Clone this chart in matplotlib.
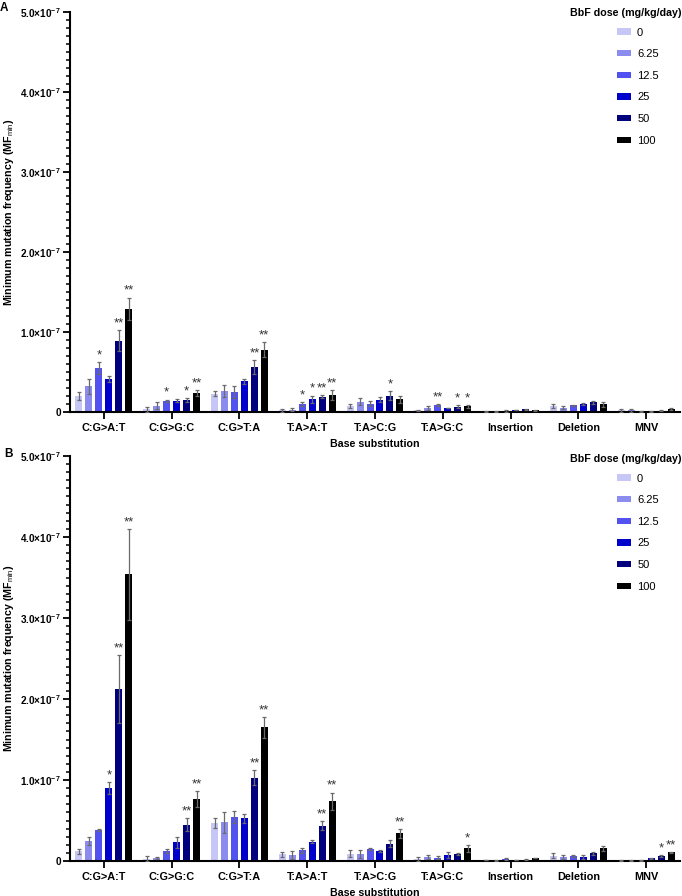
import numpy as np
import matplotlib.pyplot as plt

plt.rcParams['font.family'] = ['Liberation Sans', 'DejaVu Sans']
plt.rcParams['mathtext.fontset'] = 'custom'
plt.rcParams['mathtext.rm'] = 'Liberation Sans'
plt.rcParams['mathtext.bf'] = 'Liberation Sans:bold'
plt.rcParams['mathtext.default'] = 'bf'

categories = ['C:G>A:T', 'C:G>G:C', 'C:G>T:A', 'T:A>A:T', 'T:A>C:G',
              'T:A>G:C', 'Insertion', 'Deletion', 'MNV']
doses = ['0', '6.25', '12.5', '25', '50', '100']
colors = ['#c6c6f7', '#8c8cf0', '#5252f0', '#0000cc', '#00007e', '#000000']

# values in units of 1e-8, one row per category, one column per dose
means_a = [
    [2.05, 3.2, 5.5, 4.15, 8.9, 12.9],
    [0.35, 0.8, 1.4, 1.4, 1.5, 2.4],
    [2.3, 2.65, 2.5, 3.85, 5.6, 7.8],
    [0.2, 0.3, 1.0, 1.6, 1.9, 2.1],
    [0.75, 1.3, 1.05, 1.55, 2.05, 1.6],
    [0.2, 0.45, 0.85, 0.5, 0.65, 0.7],
    [0.1, 0.1, 0.15, 0.25, 0.35, 0.2],
    [0.75, 0.55, 0.85, 1.0, 1.2, 0.95],
    [0.2, 0.2, 0.1, 0.1, 0.15, 0.35],
]
errs_a = [
    [0.5, 0.9, 0.7, 0.35, 1.3, 1.4],
    [0.3, 0.4, 0.15, 0.2, 0.2, 0.35],
    [0.3, 0.75, 0.7, 0.3, 0.9, 0.9],
    [0.15, 0.15, 0.2, 0.45, 0.2, 0.6],
    [0.25, 0.45, 0.35, 0.3, 0.55, 0.45],
    [0.1, 0.25, 0.1, 0.05, 0.2, 0.15],
    [0.05, 0.05, 0.1, 0.05, 0.05, 0.05],
    [0.3, 0.2, 0.05, 0.1, 0.2, 0.3],
    [0.15, 0.15, 0.05, 0.05, 0.05, 0.1],
]
sig_a = [
    ['', '', '*', '', '**', '**'],
    ['', '', '*', '', '*', '**'],
    ['', '', '', '', '**', '**'],
    ['', '', '*', '*', '**', '**'],
    ['', '', '', '', '*', ''],
    ['', '', '**', '', '*', '*'],
    ['', '', '', '', '', ''],
    ['', '', '', '', '', ''],
    ['', '', '', '', '', ''],
]

means_b = [
    [1.2, 2.5, 3.8, 9.0, 21.2, 35.4],
    [0.3, 0.4, 1.25, 2.3, 4.5, 7.65],
    [4.7, 4.8, 5.45, 5.3, 10.3, 16.5],
    [0.85, 0.75, 1.3, 2.4, 4.35, 7.4],
    [0.9, 0.85, 1.45, 1.2, 2.15, 3.4],
    [0.25, 0.45, 0.4, 0.7, 0.85, 1.55],
    [0.12, 0.08, 0.25, 0.12, 0.16, 0.37],
    [0.65, 0.55, 0.65, 0.55, 0.95, 1.55],
    [0.1, 0.05, 0.1, 0.35, 0.6, 1.05],
]
errs_b = [
    [0.3, 0.5, 0.15, 0.7, 4.2, 5.6],
    [0.3, 0.1, 0.25, 0.7, 0.8, 1.0],
    [0.6, 1.3, 0.75, 0.55, 0.9, 1.3],
    [0.3, 0.45, 0.35, 0.2, 0.55, 1.05],
    [0.4, 0.45, 0.1, 0.1, 0.4, 0.55],
    [0.3, 0.25, 0.2, 0.35, 0.1, 0.45],
    [0.05, 0.05, 0.15, 0.05, 0.05, 0.05],
    [0.3, 0.25, 0.1, 0.25, 0.15, 0.35],
    [0.05, 0.05, 0.05, 0.05, 0.15, 0.05],
]
sig_b = [
    ['', '', '', '*', '**', '**'],
    ['', '', '', '', '**', '**'],
    ['', '', '', '', '**', '**'],
    ['', '', '', '', '**', '**'],
    ['', '', '', '', '', '**'],
    ['', '', '', '', '', '*'],
    ['', '', '', '', '', ''],
    ['', '', '', '', '', ''],
    ['', '', '', '', '*', '**'],
]

W, H = 682, 896


def ytick_fmt(v, pos):
    if abs(v) < 1e-12:
        return '0'
    return '%.1f\u00d710$^{-7}$' % (v / 1e-7)


def draw_panel(fig, ax, means, errs, sigs, letter, top_px):
    means = np.array(means) * 1e-8
    errs = np.array(errs) * 1e-8
    x = np.arange(len(categories))
    pitch, width = 0.147, 0.103
    for j, dose in enumerate(doses):
        xs = x + (j - 2.5) * pitch
        ax.bar(xs, means[:, j], width, color=colors[j], label=dose, zorder=2)
        ax.errorbar(xs, means[:, j], yerr=errs[:, j], fmt='none',
                    ecolor='#6a6a6a', elinewidth=0.9, capsize=1.6,
                    capthick=0.9, zorder=3)
        for i in range(len(categories)):
            if sigs[i][j]:
                ax.annotate(sigs[i][j], (xs[i], means[i, j] + errs[i, j]),
                            xytext=(0, 0.5), textcoords='offset points',
                            ha='center', va='bottom', fontsize=9.5,
                            color='#333333')

    ax.set_xlim(-0.5, len(categories) - 0.5)
    ax.set_ylim(0, 5e-7)
    ax.set_yticks(np.arange(0, 5.01e-7, 1e-7))
    ax.set_yticks(np.arange(0, 5.01e-7, 1e-8), minor=True)
    ax.yaxis.set_major_formatter(plt.FuncFormatter(ytick_fmt))
    ax.set_xticks(x)
    ax.set_xticklabels(categories, fontweight='bold', fontsize=7.8)
    for lab in ax.get_yticklabels():
        lab.set_fontweight('bold')
    ax.tick_params(axis='y', which='major', length=5, width=1.3,
                   labelsize=7.2, pad=1.5)
    ax.tick_params(axis='y', which='minor', length=3, width=1.1)
    ax.tick_params(axis='x', length=5, width=1.3, pad=3)
    ax.spines['top'].set_visible(False)
    ax.spines['right'].set_visible(False)
    ax.spines['left'].set_linewidth(1.5)
    ax.spines['bottom'].set_linewidth(1.5)
    ax.set_xlabel('Base substitution', fontweight='bold', fontsize=7.7,
                  labelpad=4)
    ax.set_ylabel('Minimum mutation frequency (MF$_{\\rm min}$)',
                  fontweight='bold', fontsize=7.7)
    ax.yaxis.set_label_coords(-0.089, 0.5)

    # legend: title on its own at the right edge, entries below it
    fig.text(681 / W, 1 - (top_px + 1) / H, 'BbF dose (mg/kg/day)',
             fontweight='bold', fontsize=7.7, ha='right', va='center')
    ax.legend(loc='upper left', bbox_to_anchor=(617 / W, 1 - (top_px + 15.5) / H),
              bbox_transform=fig.transFigure, frameon=False, fontsize=8,
              borderpad=0, borderaxespad=0, handlelength=1.26,
              handleheight=0.5, handletextpad=0.55, labelspacing=1.05)
    fig.text(letter[1] / W, 1 - (top_px - 4) / H, letter[0],
             fontweight='bold', fontsize=8.5, ha='left', va='center')


fig = plt.figure(figsize=(W / 100, H / 100), dpi=100)
ax_a = fig.add_axes([70 / W, 1 - 412 / H, 610 / W, 400 / H])
ax_b = fig.add_axes([70 / W, 1 - 861 / H, 610 / W, 405 / H])
draw_panel(fig, ax_a, means_a, errs_a, sig_a, ('A', 0), 12)
draw_panel(fig, ax_b, means_b, errs_b, sig_b, ('B', 4), 458)

fig.savefig('out.png', dpi=100)
